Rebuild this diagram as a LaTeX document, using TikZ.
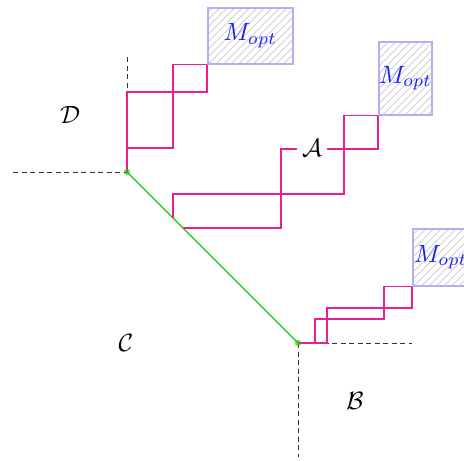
\documentclass[tikz,border=0pt]{standalone}
\usetikzlibrary{patterns}
\definecolor{stairpink}{RGB}{233,30,140}
\definecolor{diaggreen}{RGB}{20,200,20}
\definecolor{optblue}{RGB}{30,30,240}
\begin{document}
\begin{tikzpicture}[x=0.4pt,y=0.4pt,yscale=-1,xscale=1,
  stair/.style={color=stairpink,line width=0.55pt},
  axis/.style={dash pattern=on 2pt off 1.4pt,line width=0.4pt,color=black!80},
  optbox/.style={draw=optblue!35,line width=0.6pt,pattern=north east lines,pattern color=black!18,text=optblue,inner sep=0pt,anchor=north west}]
\useasboundingbox (0,0) rectangle (464,460);

%Corner points
\coordinate (P) at (127,172);
\coordinate (Q) at (298,343);

%Optimal boxes
\node[optbox,minimum width=34pt,minimum height=22.4pt] (opt1) at (207,7) {$M_{opt}$};
\node[optbox,minimum width=20.4pt,minimum height=29.2pt] (opt2) at (378,41) {$M_{opt}$};
\node[optbox,minimum width=22.4pt,minimum height=22.8pt] (opt3) at (412,228) {$M_{opt}$};

%Dashed axes
\draw[axis] (13,172) -- (P);
\draw[axis] (127,57) -- (P);
\draw[axis] (Q) -- (412,343);
\draw[axis] (Q) -- (298,457);

%Straight Lines
\draw[diaggreen,line width=0.55pt] (P) -- (Q);

%Stairs D
\draw[stair] (P) |- (207,92) |- (opt1.south west);
\draw[stair] (127,148) -- (173,148) |- (opt1.south west);
%Stairs A
\draw[stair] (173,218) |- (344,194) |- (opt2.south west);
\draw[stair] (183,228) -| (281,149) -| (opt2.south west);
%Stairs B
\draw[stair] (Q) -- (315,343) |- (384,319) |- (opt3.south west);
\draw[stair] (Q) -- (327,343) |- (412,308) |- (opt3.south west);

%Points
\fill[diaggreen,opacity=0.6] (P) circle (1.3pt);
\fill[diaggreen,opacity=0.6] (Q) circle (1.3pt);

% Text Node
\node[fill=white,inner sep=2pt] (labA) at (312,148) {$\mathcal{A}$};
% Text Node
\node (labB) at (355,401) {$\mathcal{B}$};
% Text Node
\node (labC) at (126,343) {$\mathcal{C}$};
% Text Node
\node (labD) at (70,115) {$\mathcal{D}$};

\end{tikzpicture}
\end{document}
